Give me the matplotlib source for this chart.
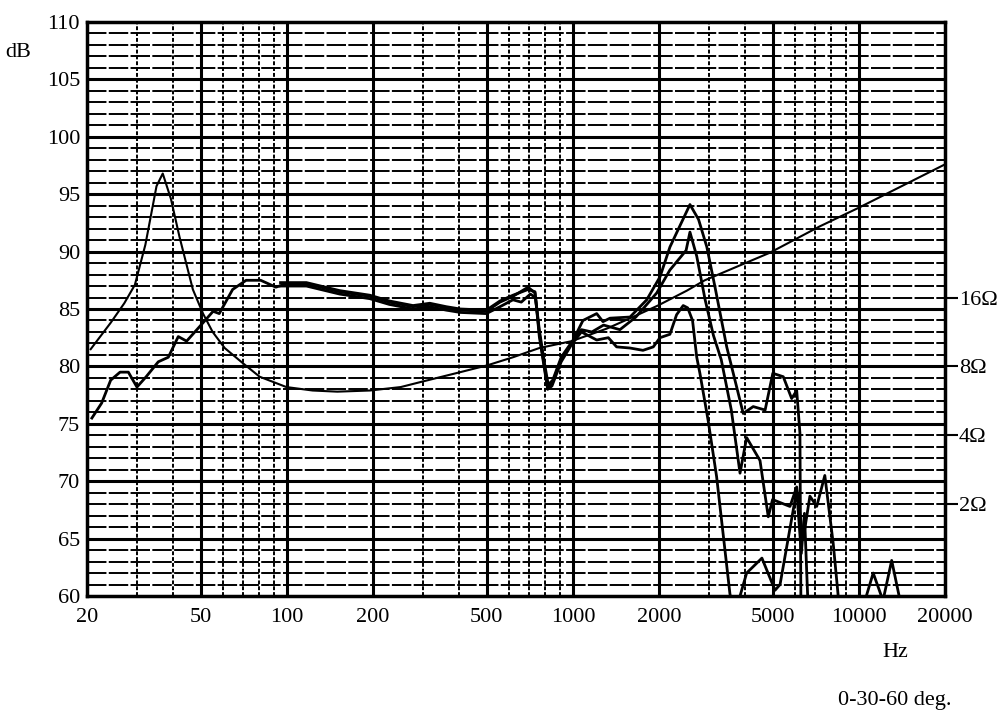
"""Respuesta en frecuencia 0-30-60 grados con curva de impedancia (copia del grafico escaneado)."""

import matplotlib

matplotlib.use("Agg")
import matplotlib.pyplot as plt  # noqa: E402

FUENTE = "Liberation Serif"
TAM = 16

# Impedancia (escala en dB de la hoja)
imp_hz = [20.6, 24.2, 27, 29.4, 32, 35.0, 36.8, 39.3, 42.1, 46.9, 50.9, 55, 60.6, 70, 80.3,
          99.6, 123, 150, 195, 250, 300, 404, 503, 618, 763, 990, 1316, 1620, 1982, 2503,
          2890, 4880, 7300, 9950, 20000]
imp_db = [81.5, 83.8, 85.5, 87.1, 90.6, 95.7, 96.8, 94.6, 91.3, 86.7, 84.6, 83.0, 81.6, 80.3, 79.1,
          78.2, 77.9, 77.8, 77.9, 78.2, 78.7, 79.5, 80.1, 80.8, 81.6, 82.2, 83.3, 84.3, 85.3, 86.6,
          87.5, 89.9, 92.2, 93.8, 97.6]

# 0 grados
a_hz = [20.8, 22.5, 24.2, 26.1, 27.9, 29.9, 32.2, 35.5, 38.5, 41.7, 44.6, 50.9, 55.2, 58, 64.6,
        72, 81, 91.5, 99.6, 117, 153, 195, 228, 276, 316, 361, 404, 498, 556, 617, 697, 737,
        763, 795, 816, 845, 910, 989, 1084, 1211, 1274, 1348, 1584, 1812, 2016, 2184, 2566,
        2750, 2940, 3140, 3450, 3940, 4270, 4700, 5000, 5440, 5820, 6060, 6220, 6300, 10300,
        10500, 11220, 12140, 13020, 13930, 14500]
a_db = [75.5, 76.8, 78.8, 79.5, 79.5, 78.2, 79.1, 80.4, 80.8, 82.6, 82.2, 83.8, 84.8, 84.6, 86.7,
        87.5, 87.5, 86.9, 87.2, 87.2, 86.5, 86.1, 85.6, 85.2, 85.4, 85.1, 84.9, 84.8, 85.6, 86.1,
        86.9, 86.4, 82.9, 80.0, 78.1, 78.5, 80.6, 82.0, 84.0, 84.6, 83.9, 84.2, 84.3, 85.8, 87.8,
        90.4, 94.1, 92.8, 90.4, 86.9, 81.7, 75.9, 76.5, 76.2, 79.4, 79.1, 77.2, 77.9, 74.2, 50,
        50, 59.6, 62.0, 59.6, 63.1, 59.6, 50]

# 30 grados
b_hz = [95, 117, 153, 195, 228, 276, 316, 361, 404, 498, 556, 617, 660, 710, 740, 763, 795, 820,
        850, 910, 989, 1071, 1165, 1280, 1460, 1660, 1964, 2184, 2487, 2566, 2710, 2900, 3100,
        3300, 3580, 3840, 4050, 4510, 4820, 4990, 5740, 6060, 6380, 6740, 7120, 7600, 8130, 8450,
        8700]
b_db = [87.0, 87.0, 86.3, 85.9, 85.4, 85.0, 85.2, 84.9, 84.7, 84.6, 85.2, 85.8, 85.6, 86.3, 86.0,
        83.2, 80.3, 78.4, 78.8, 80.8, 82.1, 83.2, 83.0, 83.6, 83.2, 84.3, 86.4, 88.4, 90.1, 91.7,
        89.6, 85.8, 82.7, 80.6, 76.2, 70.7, 73.8, 71.8, 66.9, 68.4, 67.8, 69.5, 64.9, 68.7, 67.8,
        70.5, 64.6, 60.2, 55]

# 60 grados
c_hz = [95, 117, 153, 195, 228, 276, 316, 361, 404, 498, 556, 617, 697, 737, 763, 795, 816, 845,
        910, 989, 1071, 1211, 1330, 1422, 1584, 1758, 1910, 2016, 2184, 2304, 2430, 2520, 2620,
        2710, 2780, 2970, 3180, 3540, 3690, 3840, 4050, 4580, 5090, 5300, 6060, 6290, 6450, 6740]
c_db = [87.3, 87.3, 86.6, 86.2, 85.7, 85.3, 85.5, 85.2, 85.0, 84.9, 85.7, 86.2, 86.7, 86.5, 82.6,
        79.8, 78.0, 78.3, 80.4, 81.9, 83.0, 82.3, 82.5, 81.7, 81.6, 81.4, 81.7, 82.5, 82.8, 84.5,
        85.3, 85.1, 84.0, 80.8, 79.4, 75.3, 70.4, 60.2, 57.9, 60.0, 62.0, 63.3, 60.5, 61.0, 69.2,
        63.7, 67.2, 55]

x_ticks = [20, 50, 100, 200, 500, 1000, 2000, 5000, 10000, 20000]
x_minor = [30, 40, 60, 70, 80, 90, 300, 400, 600, 700, 800, 900, 3000, 4000, 6000, 7000,
           8000, 9000]
ohm_db = [86, 80, 74, 68]
ohm_labels = ["16Ω", "8Ω", "4Ω", "2Ω"]

fig = plt.figure(figsize=(10, 7.24), dpi=100)
ax = fig.add_axes([0.087, 128 / 724, 0.858, 574 / 724])
ax.set_xscale("log")
ax.set_xlim(20, 20000)
ax.set_ylim(60, 110)

# Reticula densa como en la hoja de medicion
for db in range(61, 110):
    if db % 5 == 0:
        ax.axhline(db, color="black", lw=2.2, zorder=1)
    else:
        ax.axhline(db, color="black", lw=1.4, ls=(0, (10, 1.2)), zorder=1)
for f in x_ticks[1:-1]:
    ax.axvline(f, color="black", lw=2.2, zorder=1)
for f in x_minor:
    ax.axvline(f, color="black", lw=1.4, ls=(0, (2, 1)), zorder=1)

ax.plot(imp_hz, imp_db, color="black", lw=1.5, zorder=3)
ax.plot(a_hz, a_db, color="black", lw=2.0, zorder=3)
ax.plot(b_hz, b_db, color="black", lw=2.0, zorder=3)
ax.plot(c_hz, c_db, color="black", lw=2.0, zorder=3)

ax.set_xticks(x_ticks)
ax.set_xticklabels([str(f) for f in x_ticks])
ax.set_xticks([], minor=True)
ax.set_yticks(range(60, 111, 5))
ax.tick_params(length=0, labelsize=TAM)
ax.tick_params(axis="x", pad=9)
ax.tick_params(axis="y", pad=5)
for lab in ax.get_xticklabels() + ax.get_yticklabels():
    lab.set_fontfamily(FUENTE)
for s in ax.spines.values():
    s.set_linewidth(2.5)

ax2 = ax.twinx()
ax2.set_ylim(60, 110)
ax2.set_yticks(ohm_db)
ax2.set_yticklabels(ohm_labels, fontfamily=FUENTE, fontsize=TAM)
ax2.tick_params(axis="y", direction="out", length=9, width=1.5, pad=1)
for s in ax2.spines.values():
    s.set_visible(False)

fig.text(0.005, 0.928, "dB", fontfamily=FUENTE, fontsize=TAM, va="center")
fig.text(0.895, 0.099, "Hz", fontfamily=FUENTE, fontsize=TAM, ha="center", va="center")
fig.text(0.895, 0.033, "0-30-60 deg.", fontfamily=FUENTE, fontsize=TAM, ha="center", va="center")

fig.savefig("out.png", dpi=100)
